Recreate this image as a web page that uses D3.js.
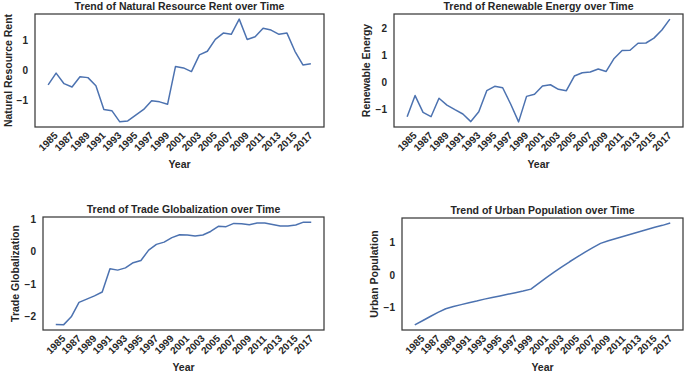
<!DOCTYPE html>
<html>
<head>
<meta charset="utf-8">
<script src="https://cdn.jsdelivr.net/npm/d3@7"></script>
<style>
  body { margin: 0; background: #fff; }
  text { font-family: "Liberation Sans", Arial, sans-serif; fill: #262626; font-weight: bold; }
</style>
</head>
<body>
<div id="chart"></div>
<script>
// years on the x axis
const years = d3.range(1985, 2019);
const yearTicks = d3.range(1985, 2018, 2);

// series values
const naturalResourceRent = [-0.48, -0.09, -0.44, -0.55, -0.21, -0.24, -0.51, -1.29, -1.33, -1.70,
    -1.67, -1.48, -1.29, -1.00, -1.04, -1.12, 0.13, 0.08, -0.04, 0.51,
    0.63, 1.02, 1.23, 1.19, 1.69, 1.02, 1.11, 1.39, 1.33, 1.19,
    1.23, 0.63, 0.18, 0.22];
const renewableEnergy = [-1.26, -0.48, -1.10, -1.26, -0.58, -0.83, -1.00, -1.16, -1.44, -1.08,
    -0.30, -0.14, -0.19, -0.79, -1.45, -0.51, -0.43, -0.13, -0.08, -0.25,
    -0.30, 0.24, 0.36, 0.39, 0.50, 0.41, 0.89, 1.18, 1.19, 1.45,
    1.46, 1.64, 1.94, 2.34];
const tradeGlobalization = [-2.26, -2.27, -2.02, -1.57, -1.47, -1.37, -1.25, -0.53, -0.57, -0.50,
    -0.34, -0.27, 0.05, 0.23, 0.30, 0.44, 0.53, 0.52, 0.49, 0.52,
    0.63, 0.79, 0.78, 0.88, 0.87, 0.84, 0.89, 0.89, 0.85, 0.80,
    0.80, 0.83, 0.92, 0.92];
const urbanPopulation = [-1.55, -1.42, -1.29, -1.16, -1.05, -0.98, -0.92, -0.86, -0.81, -0.75,
    -0.70, -0.65, -0.60, -0.55, -0.50, -0.44, -0.26, -0.08, 0.09, 0.25,
    0.41, 0.56, 0.71, 0.85, 0.98, 1.06, 1.13, 1.20, 1.27, 1.34,
    1.41, 1.48, 1.54, 1.61];

const yTicks1 = [-1, 0, 1];
const yTicks2 = [-1, 0, 1, 2];
const yTicks3 = [-2, -1, 0, 1];
const yTicks4 = [-1, 0, 1];

const panels = [
    { title: "Trend of Natural Resource Rent over Time", label: "Natural Resource Rent", values: naturalResourceRent, ticks: yTicks1,
      box: { left: 35, right: 324, top: 14, bottom: 127 }, labelX: 8 },
    { title: "Trend of Renewable Energy over Time", label: "Renewable Energy", values: renewableEnergy, ticks: yTicks2,
      box: { left: 394, right: 683, top: 14, bottom: 127 }, labelX: 366 },
    { title: "Trend of Trade Globalization over Time", label: "Trade Globalization", values: tradeGlobalization, ticks: yTicks3,
      box: { left: 43, right: 324, top: 217, bottom: 330 }, labelX: 15 },
    { title: "Trend of Urban Population over Time", label: "Urban Population", values: urbanPopulation, ticks: yTicks4,
      box: { left: 402, right: 683, top: 218, bottom: 330 }, labelX: 374 }
];

const svg = d3.select("#chart").append("svg")
    .attr("width", 685)
    .attr("height", 373);

panels.forEach(p => {
    const b = p.box;
    const g = svg.append("g");

    // matplotlib style 5% margins
    const xPad = (2018 - 1985) * 0.05;
    const x = d3.scaleLinear().domain([1985 - xPad, 2018 + xPad]).range([b.left, b.right]);
    const [lo, hi] = d3.extent(p.values);
    const yPad = (hi - lo) * 0.05;
    const y = d3.scaleLinear().domain([lo - yPad, hi + yPad]).range([b.bottom, b.top]);

    // y ticks
    g.append("g")
        .attr("transform", `translate(${b.left},0)`)
        .call(d3.axisLeft(y).tickValues(p.ticks).tickSize(0).tickPadding(7).tickFormat(d => d < 0 ? "\u2212" + Math.abs(d) : d))
        .call(a => a.select(".domain").remove())
        .selectAll("text")
        .style("font-size", "10px");

    // x ticks, rotated 45 and centred on the tick
    const xt = g.append("g");
    yearTicks.forEach(t => {
        xt.append("text")
            .attr("transform", `translate(${x(t)},${b.bottom + 14.5}) rotate(-45)`)
            .attr("text-anchor", "middle")
            .attr("dy", "0.35em")
            .style("font-size", "10px")
            .text(t);
    });

    // line
    const line = d3.line()
        .x((d, i) => x(years[i]))
        .y(d => y(d));
    g.append("path")
        .datum(p.values)
        .attr("fill", "none")
        .attr("stroke", "#4c72b0")
        .attr("stroke-width", 1.5)
        .attr("stroke-linejoin", "round")
        .attr("d", line);

    // frame
    g.append("rect")
        .attr("x", b.left)
        .attr("y", b.top)
        .attr("width", b.right - b.left)
        .attr("height", b.bottom - b.top)
        .attr("fill", "none")
        .attr("stroke", "#3a3a3a")
        .attr("stroke-width", 1.25);

    // title
    g.append("text")
        .attr("x", (b.left + b.right) / 2)
        .attr("y", b.top - 4)
        .attr("text-anchor", "middle")
        .style("font-size", "10.5px")
        .text(p.title);

    // axis labels
    g.append("text")
        .attr("x", (b.left + b.right) / 2)
        .attr("y", b.bottom + 41)
        .attr("text-anchor", "middle")
        .style("font-size", "10.5px")
        .text("Year");

    g.append("text")
        .attr("transform", `translate(${p.labelX},${(b.top + b.bottom) / 2}) rotate(-90)`)
        .attr("text-anchor", "middle")
        .attr("dy", "0.35em")
        .style("font-size", "10.5px")
        .text(p.label);
});
</script>
</body>
</html>
